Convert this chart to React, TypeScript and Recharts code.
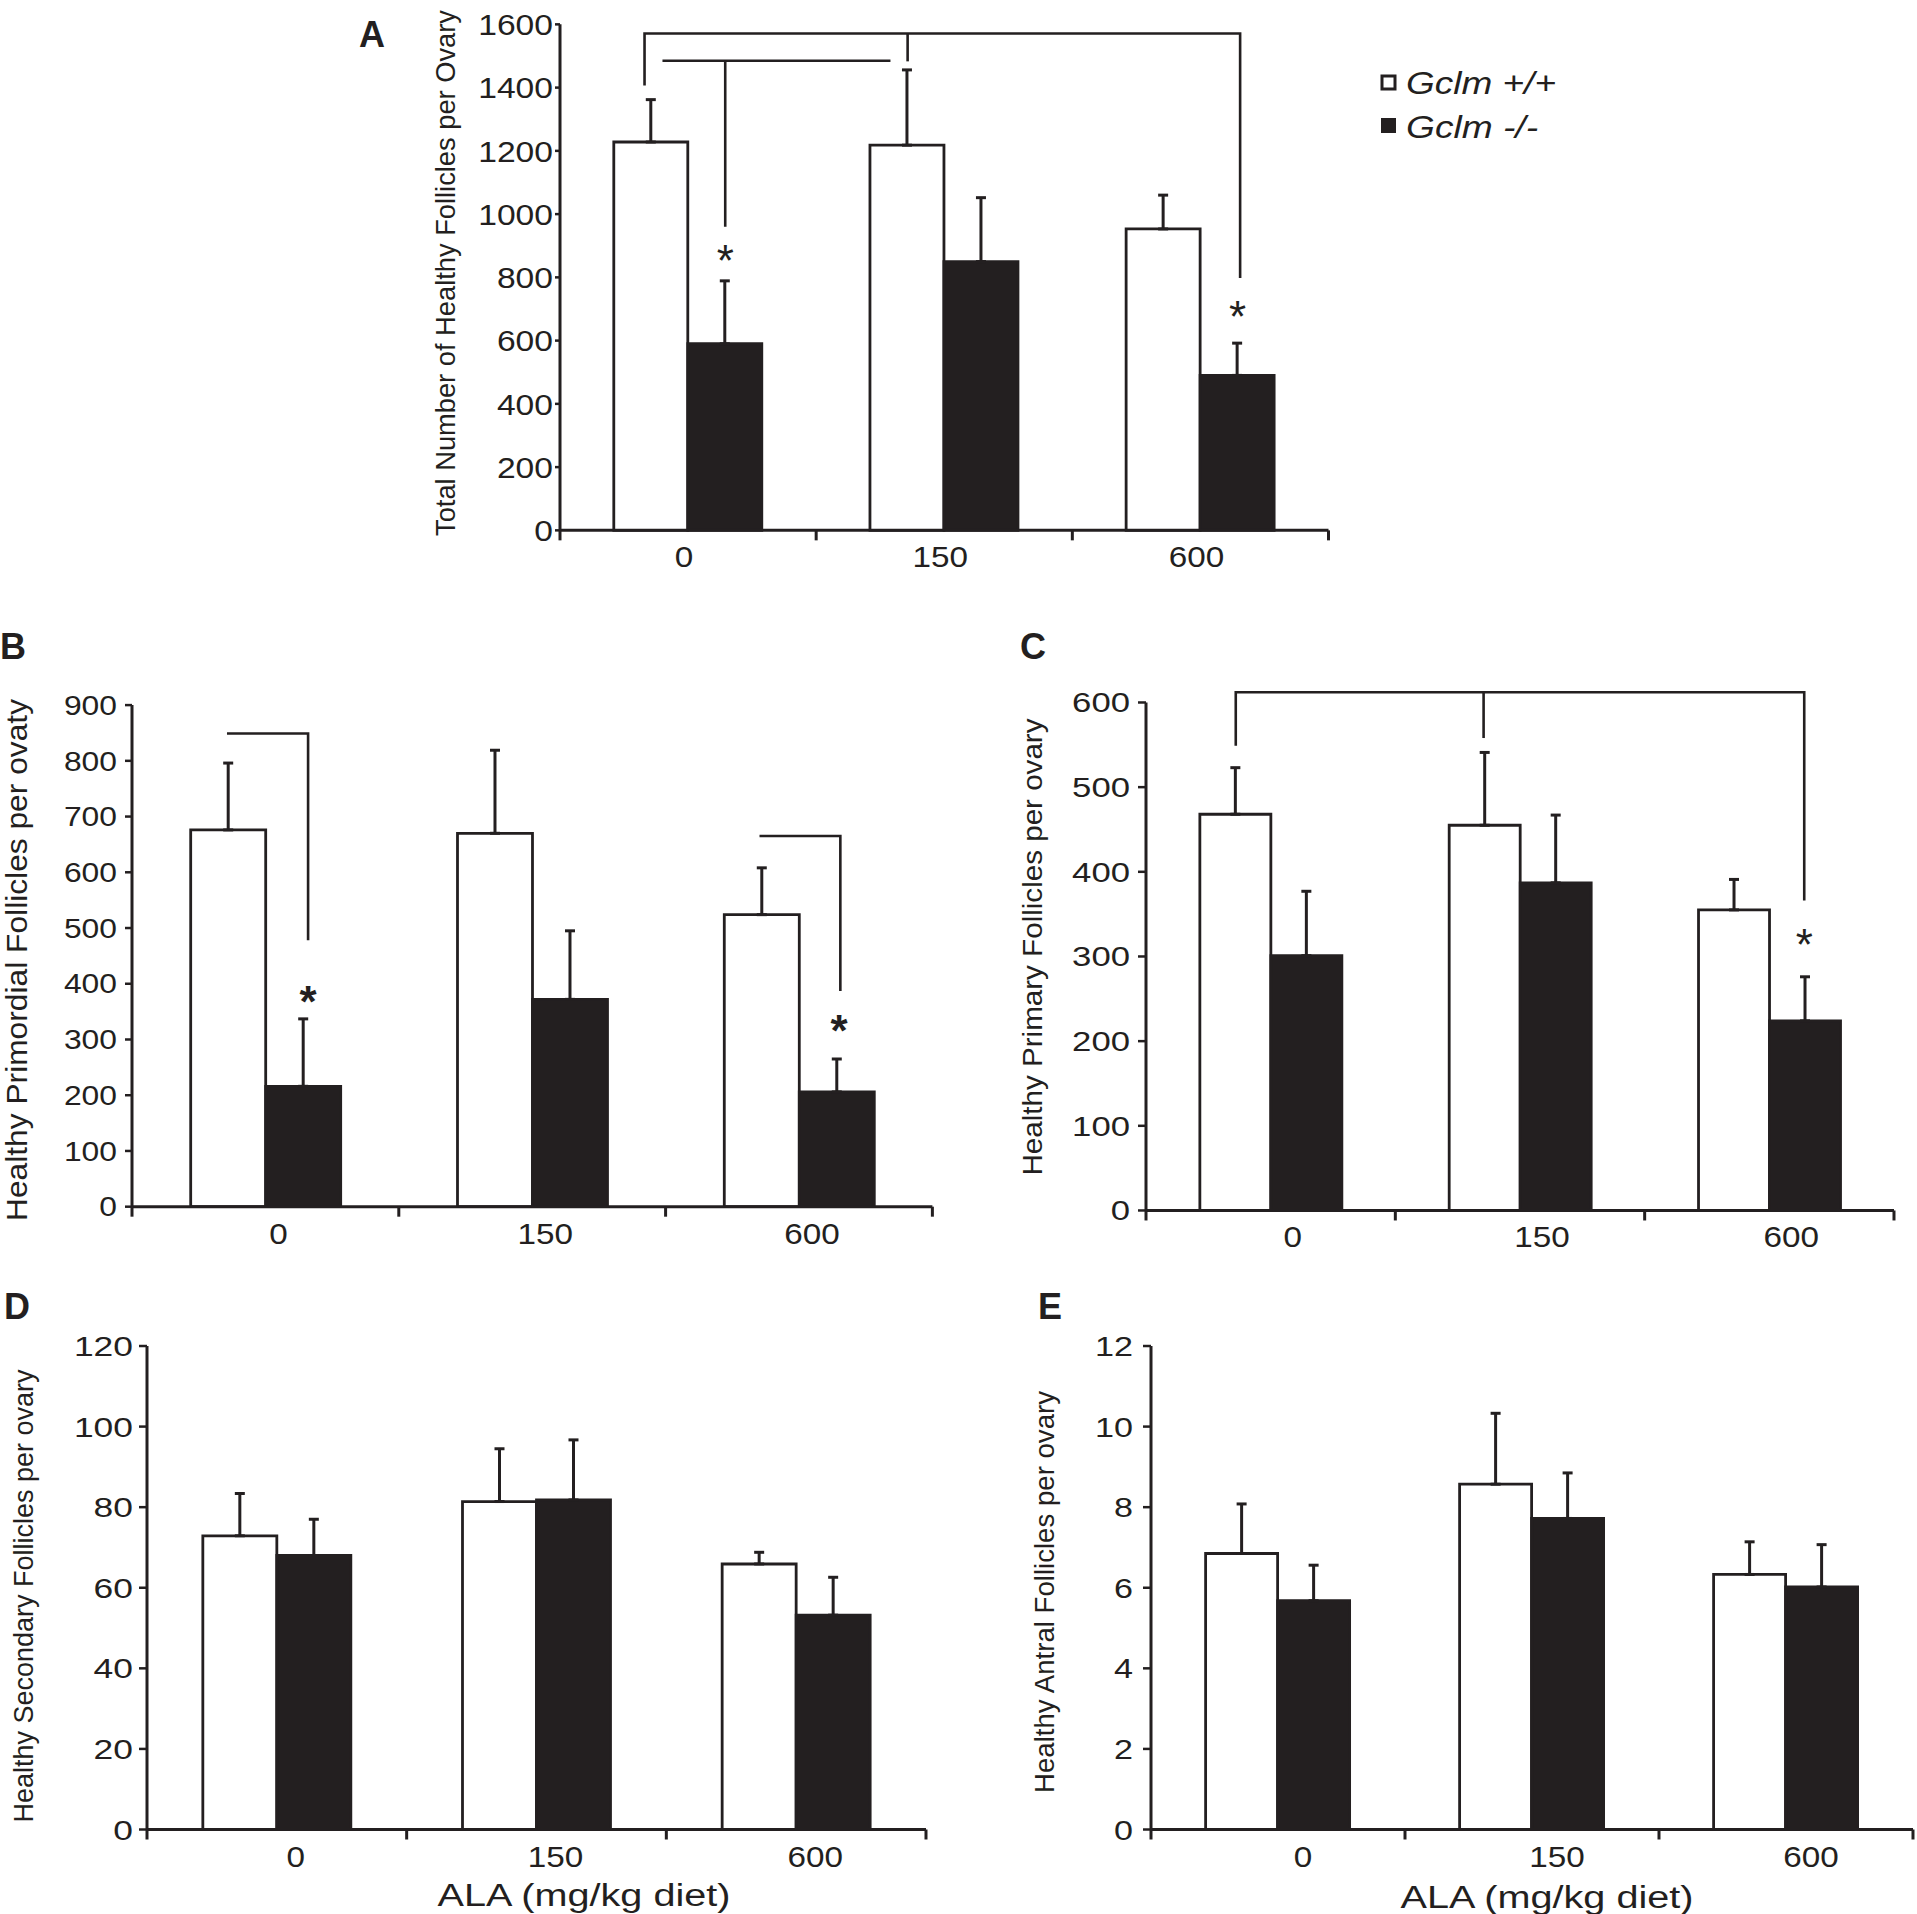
import React from 'react'
import { ComposedChart, Bar, ErrorBar, XAxis, YAxis, Scatter } from 'recharts'

const INK = '#231f20'
const FONT = "'Liberation Sans', Arial, Helvetica, sans-serif"

const doses = ['0', '150', '600']
const boundaryTicks = [-0.5, 0, 0.5, 1, 1.5, 2, 2.5]

// A – total healthy follicles per ovary
const totalWt = [1228, 1218, 953]
const totalWtErr = [134, 238, 107]
const totalKo = [590, 850, 490]
const totalKoErr = [199, 202, 102]
const totalTicks = [0, 200, 400, 600, 800, 1000, 1200, 1400, 1600]
const totalBrackets = [
  [{ x: -0.17, y: 1407 }, { x: -0.17, y: 1571 }, { x: 2.155, y: 1571 }, { x: 2.155, y: 798 }],
  [{ x: 0.857, y: 1571 }, { x: 0.857, y: 1483 }],
  [{ x: -0.1, y: 1485 }, { x: 0.79, y: 1485 }],
  [{ x: 0.145, y: 1485 }, { x: 0.145, y: 960 }],
]
const totalStars = [{ x: 0.145, y: 868 }, { x: 2.145, y: 692 }]

// B – primordial
const primWt = [676, 670, 524]
const primWtErr = [120, 149, 84]
const primKo = [216, 372, 206]
const primKoErr = [121, 123, 59]
const primTicks = [0, 100, 200, 300, 400, 500, 600, 700, 800, 900]
const primBrackets = [
  [{ x: -0.144, y: 849 }, { x: 0.16, y: 849 }, { x: 0.16, y: 478 }],
  [{ x: 1.852, y: 665 }, { x: 2.155, y: 665 }, { x: 2.155, y: 387 }],
]
const primStars = [{ x: 0.16, y: 376 }, { x: 2.15, y: 325 }]

// C – primary
const primaryWt = [468, 455, 355]
const primaryWtErr = [55, 86, 36]
const primaryKo = [301, 387, 224]
const primaryKoErr = [76, 80, 52]
const primaryTicks = [0, 100, 200, 300, 400, 500, 600]
const primaryBrackets = [
  [{ x: -0.14, y: 549 }, { x: -0.14, y: 612 }, { x: 2.14, y: 612 }, { x: 2.14, y: 366 }],
  [{ x: 0.854, y: 612 }, { x: 0.854, y: 558 }],
]
const primaryStars = [{ x: 2.14, y: 319 }]

// D – secondary
const secWt = [72.9, 81.4, 65.9]
const secWtErr = [10.5, 13.1, 2.9]
const secKo = [68, 81.8, 53.2]
const secKoErr = [9, 14.9, 9.4]
const secTicks = [0, 20, 40, 60, 80, 100, 120]

// E – antral
const antWt = [6.85, 8.57, 6.33]
const antWtErr = [1.23, 1.76, 0.81]
const antKo = [5.68, 7.72, 6.02]
const antKoErr = [0.88, 1.13, 1.05]
const antTicks = [0, 2, 4, 6, 8, 10, 12]

type Pt = { x: number; y: number }
type PanelProps = {
  axisX: number
  topY: number
  bottomY: number
  rightX: number
  wt: number[]
  wtErr: number[]
  ko: number[]
  koErr: number[]
  ticks: number[]
  gap: string
  tickLen: number
  tickGap: number
  tickFont: number
  digitW: number
  labelShift: number
  brackets?: Pt[][]
  stars?: Pt[]
  boldStars?: boolean
}

function Panel(p: PanelProps) {
  const yMax = p.ticks[p.ticks.length - 1]
  const top = yMax * 1.06
  const plotH = ((p.bottomY - p.topY) * top) / yMax
  const YW = 120
  const MT = 6
  const MR = 8
  const XH = 60
  const width = p.rightX - p.axisX + YW + MR
  const height = plotH + MT + XH

  const rows = doses.map((d, i) => ({
    dose: d,
    wt: p.wt[i],
    wtErr: [0, p.wtErr[i]],
    ko: p.ko[i],
    koErr: [0, p.koErr[i]],
  }))

  // y axis line stops at the last tick, the plot keeps some headroom above it
  const yLine = [{ x: -0.5, y: 0 }, { x: -0.5, y: yMax }]

  const renderXTick = (props: any) => {
    const { x, y, payload } = props
    const v = payload.value
    if (Number.isInteger(v)) {
      const s = doses[v]
      return (
        <text
          x={x + p.labelShift}
          y={y + 37}
          textAnchor="middle"
          fontSize={29}
          fill={INK}
          fontFamily={FONT}
          textLength={s.length * 18.5}
          lengthAdjust="spacingAndGlyphs"
        >
          {s}
        </text>
      )
    }
    return <line x1={x} x2={x} y1={y} y2={y + 10} stroke={INK} strokeWidth={3} />
  }

  const renderYTick = (props: any) => {
    const { x, y, payload } = props
    const s = String(payload.value)
    return (
      <text
        x={x}
        y={y}
        dy="0.36em"
        textAnchor="end"
        fontSize={p.tickFont}
        fill={INK}
        fontFamily={FONT}
        textLength={s.length * p.digitW}
        lengthAdjust="spacingAndGlyphs"
      >
        {s}
      </text>
    )
  }

  const renderStar = (s: any) => (
    <text
      x={s.cx}
      y={s.cy + 20}
      textAnchor="middle"
      fontSize={44}
      fontWeight={p.boldStars ? 700 : 400}
      fill={INK}
      fontFamily={FONT}
    >
      *
    </text>
  )

  return (
    <div style={{ position: 'absolute', left: p.axisX - YW, top: p.bottomY - plotH - MT }}>
      <ComposedChart
        width={width}
        height={height}
        data={rows}
        margin={{ top: MT, right: MR, left: 0, bottom: 0 }}
        barCategoryGap={p.gap}
        barGap={0}
      >
        <XAxis xAxisId="c" dataKey="dose" hide height={0} />
        <XAxis
          xAxisId="n"
          type="number"
          dataKey="x"
          domain={[-0.5, 2.5]}
          ticks={boundaryTicks}
          interval={0}
          tickLine={false}
          tickSize={0}
          tickMargin={0}
          height={XH}
          axisLine={{ stroke: INK, strokeWidth: 3 }}
          tick={renderXTick}
        />
        <YAxis
          domain={[0, top]}
          ticks={p.ticks}
          interval={0}
          width={YW}
          axisLine={false}
          tickLine={{ stroke: INK, strokeWidth: 2.5 }}
          tickSize={p.tickLen}
          tickMargin={p.tickGap}
          tick={renderYTick}
        />
        <Bar xAxisId="c" dataKey="wt" fill="#ffffff" stroke={INK} strokeWidth={2.8} isAnimationActive={false}>
          <ErrorBar dataKey="wtErr" width={5} strokeWidth={3} stroke={INK} direction="y" />
        </Bar>
        <Bar xAxisId="c" dataKey="ko" fill={INK} stroke={INK} strokeWidth={2.8} isAnimationActive={false}>
          <ErrorBar dataKey="koErr" width={5} strokeWidth={3} stroke={INK} direction="y" />
        </Bar>
        <Scatter
          xAxisId="n"
          data={yLine}
          dataKey="y"
          line={{ stroke: INK, strokeWidth: 3 }}
          shape={() => <g />}
          isAnimationActive={false}
        />
        {(p.brackets || []).map((b, i) => (
          <Scatter
            key={'b' + i}
            xAxisId="n"
            data={b}
            dataKey="y"
            line={{ stroke: INK, strokeWidth: 2.6 }}
            shape={() => <g />}
            isAnimationActive={false}
          />
        ))}
        {p.stars && (
          <Scatter xAxisId="n" data={p.stars} dataKey="y" shape={renderStar} isAnimationActive={false} />
        )}
      </ComposedChart>
    </div>
  )
}

function YLabel({ cx, cy, len, size, children }: { cx: number; cy: number; len: number; size: number; children: string }) {
  return (
    <text
      transform={`translate(${cx},${cy}) rotate(-90)`}
      textAnchor="middle"
      dy="0.35em"
      fontSize={size}
      fill={INK}
      textLength={len}
      lengthAdjust="spacingAndGlyphs"
    >
      {children}
    </text>
  )
}

export default function App() {
  return (
    <div style={{ position: 'absolute', left: 0, top: 0, width: 1917, height: 1914, background: '#fff', fontFamily: FONT }}>
      <Panel axisX={560} topY={24} bottomY={530} rightX={1328.5} wt={totalWt} wtErr={totalWtErr} ko={totalKo} koErr={totalKoErr} ticks={totalTicks} gap="21%" tickLen={5} tickGap={2} tickFont={30} digitW={18.7} labelShift={-4} brackets={totalBrackets} stars={totalStars} />
      <Panel axisX={131.6} topY={705.4} bottomY={1207} rightX={932} wt={primWt} wtErr={primWtErr} ko={primKo} koErr={primKoErr} ticks={primTicks} gap="22%" tickLen={7} tickGap={8} tickFont={27} digitW={17.7} labelShift={13} brackets={primBrackets} stars={primStars} boldStars />
      <Panel axisX={1146} topY={702} bottomY={1210} rightX={1894} wt={primaryWt} wtErr={primaryWtErr} ko={primaryKo} koErr={primaryKoErr} ticks={primaryTicks} gap="21.6%" tickLen={8} tickGap={8} tickFont={27} digitW={19.3} labelShift={22} brackets={primaryBrackets} stars={primaryStars} />
      <Panel axisX={147} topY={1346.5} bottomY={1830} rightX={926} wt={secWt} wtErr={secWtErr} ko={secKo} koErr={secKoErr} ticks={secTicks} gap="21.5%" tickLen={8} tickGap={6} tickFont={28} digitW={19.7} labelShift={19} />
      <Panel axisX={1151} topY={1346.5} bottomY={1830} rightX={1913} wt={antWt} wtErr={antWtErr} ko={antKo} koErr={antKoErr} ticks={antTicks} gap="21.5%" tickLen={8} tickGap={10} tickFont={28} digitW={19} labelShift={25} />

      <svg width={1917} height={1914} style={{ position: 'absolute', left: 0, top: 0, pointerEvents: 'none' }} fontFamily={FONT}>
        <g fontWeight={700} fontSize={36} fill={INK}>
          <text x={359} y={47}>A</text>
          <text x={0} y={659}>B</text>
          <text x={1020} y={659}>C</text>
          <text x={4} y={1319}>D</text>
          <text x={1038} y={1319}>E</text>
        </g>
        <YLabel cx={445} cy={273} len={526} size={28}>Total Number of Healthy  Follicles per Ovary</YLabel>
        <YLabel cx={17} cy={960} len={522} size={29}>Healthy Primordial Follicles per ovaty</YLabel>
        <YLabel cx={1032} cy={947} len={457} size={28}>Healthy Primary Follicles per ovary</YLabel>
        <YLabel cx={24} cy={1596} len={453} size={27}>Healthy Secondary Follicles per ovary</YLabel>
        <YLabel cx={1045} cy={1592} len={402} size={27}>Healthy Antral Follicles per ovary</YLabel>

        <text x={584} y={1906} textAnchor="middle" fontSize={31} fill={INK} textLength={293} lengthAdjust="spacingAndGlyphs">ALA (mg/kg diet)</text>
        <text x={1547} y={1908} textAnchor="middle" fontSize={31} fill={INK} textLength={293} lengthAdjust="spacingAndGlyphs">ALA (mg/kg diet)</text>

        <rect x={1382} y={76} width={13} height={13} fill="#fff" stroke={INK} strokeWidth={3} />
        <text x={1406} y={94} fontSize={31} fontStyle="italic" fill={INK} textLength={150} lengthAdjust="spacingAndGlyphs">Gclm +/+</text>
        <rect x={1381} y={118} width={15} height={15} fill={INK} />
        <text x={1406} y={138} fontSize={31} fontStyle="italic" fill={INK} textLength={132} lengthAdjust="spacingAndGlyphs">Gclm -/-</text>
      </svg>
    </div>
  )
}
